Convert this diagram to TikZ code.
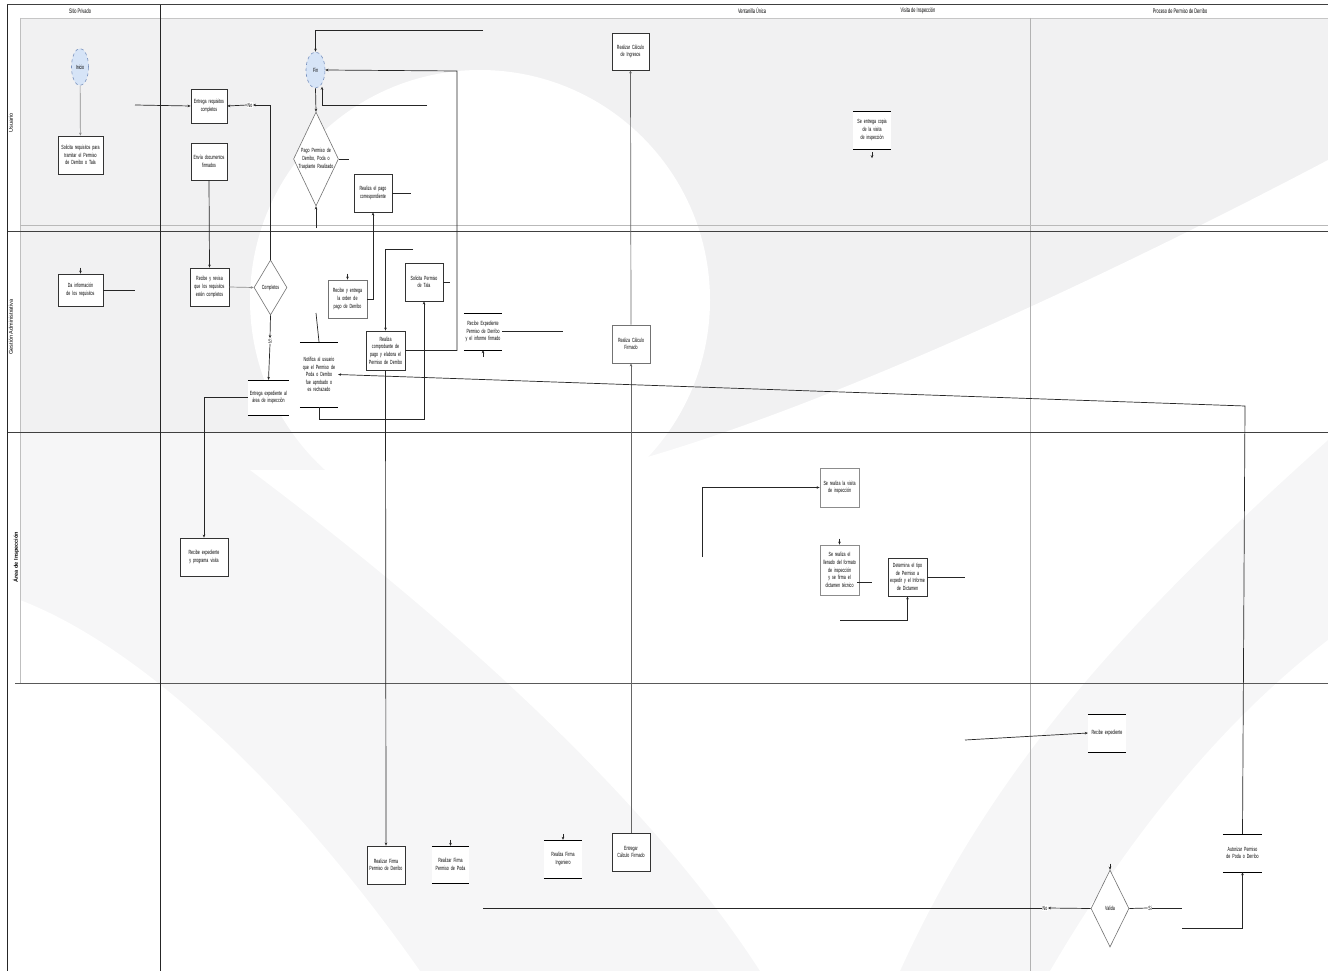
\documentclass[tikz,border=0pt]{standalone}
\usepackage{fontspec}
\newfontfamily\cond{Liberation Sans}[FakeStretch=0.6]
\newfontfamily\plain{Liberation Sans}
\usetikzlibrary{shapes.geometric,arrows.meta,calc}
\definecolor{bgg}{RGB}{241,241,242}
\definecolor{bgl}{RGB}{246,246,247}
\definecolor{startfill}{RGB}{214,228,247}
\definecolor{startline}{RGB}{120,145,190}
\tikzset{
  txt/.style={font=\cond\fontsize{6}{7.6}\selectfont, align=center},
  box/.style={txt, draw=black!80, line width=0.8pt, fill=white, minimum width=38pt, minimum height=38pt, text width=35pt, inner sep=0.5pt},
  obox/.style={txt, fill=white, minimum width=38pt, minimum height=38pt, text width=35pt, inner sep=0.5pt,
    append after command={[draw=black!75,line width=0.8pt] (\tikzlastnode.north west) edge (\tikzlastnode.north east) (\tikzlastnode.south west) edge (\tikzlastnode.south east)}},
  term/.style={txt, ellipse, draw=startline, dashed, fill=startfill, line width=0.6pt, inner sep=0pt},
  dec/.style={diamond, draw=black!55, line width=0.6pt, fill=white, inner sep=0pt, aspect=0.5},
  lab/.style={txt, fill=white, inner sep=0.5pt},
  conn/.style={draw=black!85, line width=0.7pt},
  arr/.style={conn, -{Stealth[length=3pt,width=2.6pt]}},
  hdr/.style={font=\cond\fontsize{6.5}{7}\selectfont},
  lanelab/.style={font=\plain\fontsize{5.5}{6}\selectfont, rotate=90},
}
\begin{document}
\begin{tikzpicture}[x=1pt,y=-1pt]
\useasboundingbox (0,0) rectangle (1328,971);
\fill[white] (0,0) rectangle (1328,971);
% background watermark
\fill[bgg] (20,18) rectangle (1328,432);
\fill[bgl] (20,432) rectangle (1328,971);
\begin{scope}
\clip (20,18) rectangle (1328,971);
\fill[white] (480,300) circle (230);
\fill[white] (250,470) .. controls (450,620) and (650,800) .. (760,971) -- (900,971)
  .. controls (1000,750) and (1150,600) .. (1328,440) -- (1328,160)
  .. controls (1100,280) and (800,420) .. (600,470) -- cycle;
\fill[white] (20,600) .. controls (150,650) and (300,800) .. (420,971) -- (20,971) -- cycle;
\fill[white] (1050,971) .. controls (1150,800) and (1250,700) .. (1328,640) -- (1328,971) -- cycle;
\end{scope}
% lanes
\draw[gray!45, line width=0.8pt] (20,18) -- (1328,18);
\draw[gray!50, line width=0.8pt] (20,18) -- (20,683);
\draw[gray!60, line width=1pt] (1030,18) -- (1030,971);
\draw[gray!55, line width=0.8pt] (20,225) -- (1328,225);
\draw[black!75, line width=0.9pt] (7,231) -- (1328,231);
\draw[black!75, line width=0.9pt] (7,432) -- (1328,432);
\draw[black!65, line width=0.9pt] (15,683) -- (1328,683);
\draw[black!75, line width=1pt] (7,5) -- (1328,5);
\draw[black!85, line width=1pt] (7,5) -- (7,971);
\draw[black!85, line width=1pt] (160,5) -- (160,971);
\node[hdr] (h1) at (80,11) {Sitio Privado};
\node[hdr] (h2) at (752,11) {Ventanilla Única};
\node[hdr] (h3) at (918,11) {Visita de Inspección};
\node[hdr] (h4) at (1180,11) {Proceso de Permiso de Derribo};
\node[lanelab] (l1) at (11,123) {Usuario};
\node[lanelab] (l2) at (11,327) {Gestión Administrativa};
\node[lanelab, font=\plain\bfseries\fontsize{5.5}{6}\selectfont] (l3) at (16,557) {Área de Inspección};
% nodes lane 1
\node[term, minimum width=17pt, minimum height=37pt] (inicio) at (80,67) {Inicio};
\node[box, minimum width=45pt, text width=42pt] (solreq) at (80.5,155) {Solicita requisitos para tramitar el Permiso de Derribo o Tala};
\node[box, minimum width=36pt, minimum height=34pt, text width=34pt] (entreq) at (209,106) {Entrega requisitos completos};
\node[box, minimum width=36pt, minimum height=37pt, text width=34pt] (envdoc) at (209,161.5) {Envía documentos firmados};
\node[term, minimum width=19pt, minimum height=36pt] (fin) at (315.5,70) {Fin};
\node[dec, minimum width=45pt, minimum height=94pt] (pago) at (316,159) {};
\node[txt, text width=40pt] (pagot) at (316,159) {Pago Permiso de Derribo, Poda o Trasplante Realizado};
\node[box] (pagcorr) at (373,193) {Realiza el pago correspondiente};
\node[box, minimum width=37pt, minimum height=37pt] (calcing) at (630.5,51.5) {Realizar Cálculo de Ingresos};
\node[obox] (copia) at (872,130) {Se entrega copia de la visita de inspección};
% lane 2
\node[box, minimum width=45pt, minimum height=32pt, text width=42pt] (dainfo) at (80.5,290) {Da información de los requisitos};
\node[box, minimum width=39pt] (revisa) at (209.5,287) {Recibe y revisa que los requisitos estén completos};
\node[dec, minimum width=33pt, minimum height=55pt] (completos) at (270.5,287.5) {};
\node[txt] (completost) at (270.5,287.5) {Completos};
\node[lab] (si1) at (270,341) {Si};
\node[lab] (no1) at (250,105) {No};
\node[obox, minimum width=41pt, minimum height=35pt, text width=39pt] (entexp) at (268.5,397.5) {Entrega expediente al área de inspección};
\node[box, draw=black!55, minimum width=39pt] (recent) at (347.5,299) {Recibe y entrega la orden de pago de Derribo};
\node[obox, minimum height=65pt] (notif) at (319,374.5) {Notifica al usuario que el Permiso de Poda o Derribo fue aprobado o es rechazado};
\node[box] (soltala) at (424,282) {Solicita Permiso de Tala};
\node[box, minimum width=39pt, minimum height=39pt] (comprob) at (385.5,350.5) {Realiza comprobante de pago y elabora el Permiso de Derribo};
\node[obox, minimum height=37pt] (recexpd) at (483,331.5) {Recibe Expediente Permiso de Derribo y el informe firmado};
\node[box, draw=black!55] (calcfirm) at (631,344) {Realiza Cálculo Firmado};
% lane 3
\node[box, minimum width=48pt, text width=44pt] (progvis) at (204,557) {Recibe expediente y programa visita};
\node[box, draw=black!45, minimum width=39pt, minimum height=39pt] (visita) at (839.5,487.5) {Se realiza la visita de inspección};
\node[box, draw=black!45, minimum width=39pt, minimum height=50pt] (llenado) at (839.5,570) {Se realiza el llenado del formato de inspección y se firma el dictamen técnico};
\node[box, minimum width=39pt] (determina) at (907.5,577) {Determina el tipo de Permiso a expedir y el Informe de Dictamen};
% lane 4
\node[obox] (recexp) at (1107,733) {Recibe expediente};
\node[box] (firmader) at (386,865) {Realizar Firma Permiso de Derribo};
\node[obox, minimum width=37pt, minimum height=37pt] (firmapoda) at (450.5,864.5) {Realizar Firma Permiso de Poda};
\node[obox] (firmaing) at (563,859) {Realiza Firma Ingeniero};
\node[box] (entcalc) at (631,852) {Entregar Cálculo Firmado};
\node[dec, minimum width=38pt, minimum height=77pt] (valida) at (1110,908.5) {};
\node[txt] (validat) at (1110,908.5) {Valida};
\node[lab] (no2) at (1045,908) {No};
\node[lab] (si2) at (1150,908) {Si};
\node[obox, minimum width=39pt] (autoriza) at (1242.5,853) {Autorizar Permiso de Poda o Derribo};
% free ends
\coordinate (c1) at (135,105);
\coordinate (c2) at (483,30);
\coordinate (c3) at (457,71);
\coordinate (c4) at (427,105);
\coordinate (c5) at (316,228);
\coordinate (c6) at (316,313);
\coordinate (c7) at (413,249);
\coordinate (c8) at (702,557);
\coordinate (c9) at (840,620);
\coordinate (c10) at (965,740);
\coordinate (c11) at (1182,928);
\coordinate (c12) at (1245,406);
\coordinate (c13) at (483,908);
% connectors
\draw[arr, draw=black!45] (inicio) -- (solreq);
\draw[arr] (c1) -- (entreq.west);
\draw[arr] (completos.north) |- (no1.east);
\draw[arr] (no1.west) -- (entreq.east);
\draw[arr] (c2) -| (fin.north);
\draw[arr] (comprob.east) -| (c3) -- (fin.east);
\draw[arr] (c4) -| ($(fin.south)+(6.5,-1.5)$);
\draw[arr] (fin.south) -- (pago.north);
\draw[conn] (pago.east) -- ++(10,0);
\draw[arr] (c5) -- (pago.south);
\draw[conn] (c6) -- (notif.north);
\draw[conn] (pagcorr.east) -- ++(19,0);
\draw[arr] (recent.east) -| (pagcorr.south);
\draw[arr, draw=black!60] (calcfirm.north) -- (calcing.south);
\draw[arr, draw=black!60] (entcalc.north) -- (calcfirm.south);
\draw[arr] (envdoc.south) -- (revisa.north);
\draw[conn] (dainfo.east) -- ++(32,0);
\draw[arr, draw=black!45] (revisa.east) -- (completos.west);
\draw[arr] (completos.south) -- (si1.north);
\draw[arr] (si1.south) -- (entexp.north);
\draw[arr] (entexp.west) -| (progvis.north);
\draw[arr] (autoriza.north) -- (c12) -- (notif.east);
\draw[arr] (notif.south) -- ++(0,12) -| (soltala.south);
\draw[conn] (soltala.east) -- ++(7,0);
\draw[arr] (c7) -| (comprob.north);
\draw[arr] (comprob.south) -- (firmader.north);
\draw[conn] (recexpd.east) -- ++(61,0);
\draw[arr] (c8) |- (visita.west);
\draw[conn] ($(llenado.east)+(-2,12)$) -- ++(15,0);
\draw[conn] (determina.east) -- ++(38,0);
\draw[arr] (c9) -| (determina.south);
\draw[arr] (c10) -- (recexp.west);
\draw[arr] (valida.west) -- (no2.east);
\draw[conn] (no2.west) -- (c13);
\draw[conn] (valida.east) -- (si2.west);
\draw[conn] (si2.east) -- (c11 |- si2.east);
\draw[arr] (c11) -| (autoriza.south);
% arrow stubs
\draw[arr] ($(dainfo.north)+(0,-6)$) -- (dainfo.north);
\draw[arr] ($(recent.north)+(0,-6)$) -- (recent.north);
\draw[arr] ($(llenado.north)+(0,-6)$) -- (llenado.north);
\draw[arr] ($(firmapoda.north)+(0,-6)$) -- (firmapoda.north);
\draw[arr] ($(firmaing.north)+(0,-6)$) -- (firmaing.north);
\draw[arr] ($(valida.north)+(0,-6)$) -- (valida.north);
\draw[arr] ($(copia.south)+(0,3)$) -- ++(0,6);
\draw[arr] ($(recexpd.south)+(0,7)$) -- (recexpd.south);
\end{tikzpicture}
\end{document}
